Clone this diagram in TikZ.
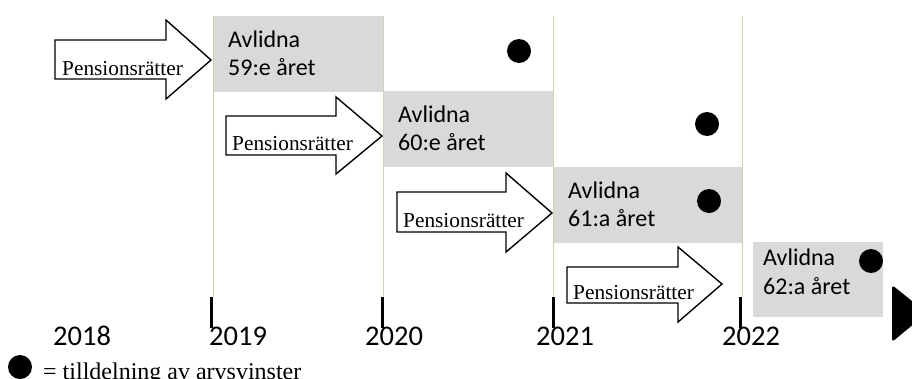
\documentclass[tikz,border=0pt]{standalone}
\usepackage{fontspec}
\setmainfont{Liberation Serif}
\newfontfamily\carlito{Carlito}
\definecolor{boxgray}{HTML}{D9D9D9}
\definecolor{gridtan}{HTML}{D6CFB6}
\tikzset{
  yearline/.style={draw=gridtan, line width=0.9pt},
  tickmark/.style={draw=black, line width=3pt},
  agebox/.style={fill=boxgray},
  boxtext/.style={font=\carlito\fontsize{24}{28}\selectfont, anchor=base west, inner sep=0pt},
  yeartext/.style={font=\carlito\fontsize{28.5}{30}\selectfont, anchor=base west, inner sep=0pt},
  arrowtext/.style={font=\fontsize{21.3}{24}\selectfont, anchor=base west, inner sep=0pt},
  legendtext/.style={font=\fontsize{24}{26}\selectfont, anchor=base west, inner sep=0pt},
  blockarrow/.style={draw=black, fill=white, line width=1.4pt, line join=miter},
  award/.style={circle, fill=black, minimum size=24pt, inner sep=0pt},
}
\begin{document}
\begin{tikzpicture}[x=1pt, y={(0pt,-1pt)}]
\useasboundingbox (0,0) rectangle (912,378);
% grey boxes
\path[agebox] (213,16) rectangle (383,92);
\path[agebox] (383,91) rectangle (553,167);
\path[agebox] (553,167) rectangle (742,243);
\path[agebox] (753,242) rectangle (883,317);
% year lines
\coordinate (t19) at (211,297); \coordinate (b19) at (211,328);
\coordinate (t20) at (382,297); \coordinate (b20) at (382,328);
\coordinate (t21) at (553,297); \coordinate (b21) at (553,328);
\coordinate (t22) at (740,297); \coordinate (b22) at (740,328);
\coordinate (g19a) at (213,16); \coordinate (g19b) at (213,297);
\coordinate (g20a) at (383,16); \coordinate (g20b) at (383,297);
\coordinate (g21a) at (553,16); \coordinate (g21b) at (553,297);
\coordinate (g22a) at (742,16); \coordinate (g22b) at (742,297);
\draw[yearline] (g19a) -- (g19b);
\draw[yearline] (g20a) -- (g20b);
\draw[yearline] (g21a) -- (g21b);
\draw[yearline] (g22a) -- (g22b);
% block arrows
\draw[blockarrow] (55,40) -- (166,40) -- (166,20) -- (211,60) -- (166,99) -- (166,79) -- (55,79) -- cycle;
\draw[blockarrow] (226,116) -- (336,116) -- (336,97) -- (382,136) -- (336,174) -- (336,155) -- (226,155) -- cycle;
\draw[blockarrow] (397,192) -- (506,192) -- (506,173) -- (552,213) -- (506,252) -- (506,232) -- (397,232) -- cycle;
\draw[blockarrow] (567,267) -- (678,267) -- (678,247) -- (722,284) -- (678,322) -- (678,303) -- (567,303) -- cycle;
\node[arrowtext] (p1) at (62,75) {Pensionsrätter};
\node[arrowtext] (p2) at (232,150) {Pensionsrätter};
\node[arrowtext] (p3) at (403,227) {Pensionsrätter};
\node[arrowtext] (p4) at (573,299) {Pensionsrätter};
% box texts
\node[boxtext] (a1) at (228,47) {Avlidna};
\node[boxtext] (y1) at (228,75) {59:e året};
\node[boxtext] (a2) at (398,122) {Avlidna};
\node[boxtext] (y2) at (398,150) {60:e året};
\node[boxtext] (a3) at (568,198) {Avlidna};
\node[boxtext] (y3) at (568,226) {61:a året};
\node[boxtext] (a4) at (763,265) {Avlidna};
\node[boxtext] (y4) at (763,294) {62:a året};
% ticks
\draw[tickmark] (t19) -- (b19);
\draw[tickmark] (t20) -- (b20);
\draw[tickmark] (t21) -- (b21);
\draw[tickmark] (t22) -- (b22);
% years
\node[yeartext] (k18) at (53,345) {2018};
\node[yeartext] (k19) at (209,345) {2019};
\node[yeartext] (k20) at (365,345) {2020};
\node[yeartext] (k21) at (536,345) {2021};
\node[yeartext] (k22) at (722,345) {2022};
% dots
\node[award] (d1) at (519,51) {};
\node[award] (d2) at (707,124) {};
\node[award] (d3) at (709,201) {};
\node[award] (d4) at (871,261) {};
% end triangle
\fill[rounded corners=3pt] (892,285) -- (927,313) -- (892,342) -- cycle;
% legend
\node[award] (ld) at (20,367) {};
\node[legendtext] (lt) at (43,379) {= tilldelning av arvsvinster};
\end{tikzpicture}
\end{document}
